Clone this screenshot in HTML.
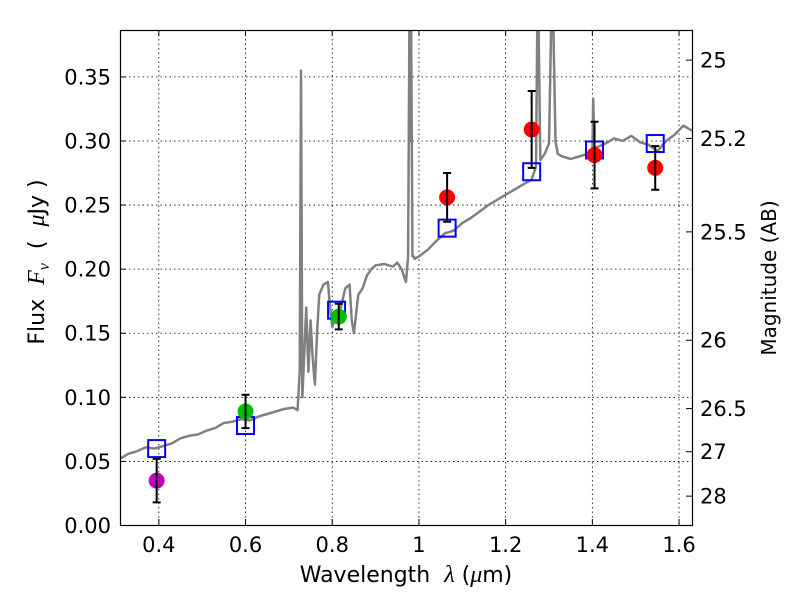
<!DOCTYPE html>
<html><head><meta charset="utf-8"><style>
body{margin:0;background:#fff;width:800px;height:600px;overflow:hidden}
svg{font-family:"DejaVu Sans","Liberation Sans",sans-serif}
</style></head><body>
<svg id="chart" width="800" height="600">
<g id="grid"></g>
<g id="spec"></g>
<g id="pts"></g>
<rect x="120.5" y="30.5" width="572" height="495" fill="none" stroke="#000" stroke-width="1.2"/>
<g id="axes"></g>
<text x="406" y="582" font-size="22" text-anchor="middle" xml:space="preserve">Wavelength  <tspan font-style="italic" font-family="Liberation Serif" font-size="24">λ</tspan> (<tspan font-style="italic" font-family="Liberation Serif" font-size="24">μ</tspan>m)</text>
<text transform="translate(44,262) rotate(-90)" font-size="22" text-anchor="middle" xml:space="preserve">Flux  <tspan font-style="italic" font-family="Liberation Serif" font-size="24">F<tspan font-size="16" dy="5">ν</tspan></tspan><tspan dy="-5">  (  </tspan><tspan font-style="italic" font-family="Liberation Serif" font-size="24">μ</tspan>Jy )</text>
<text transform="translate(776,278) rotate(-90)" font-size="20" text-anchor="middle">Magnitude (AB)</text>
</svg>
<script>
const xTicks=[0.4,0.6,0.8,1.0,1.2,1.4,1.6];
const xTickLabels=["0.4","0.6","0.8","1","1.2","1.4","1.6"];
const yTicks=[0,0.05,0.1,0.15,0.2,0.25,0.3,0.35];
const yTickLabels=["0.00","0.05","0.10","0.15","0.20","0.25","0.30","0.35"];
const magTicks=[25,25.2,25.5,26,26.5,27,28];
const magTickLabels=["25","25.2","25.5","26","26.5","27","28"];
const specWave=[0.31,0.33,0.35,0.37,0.39,0.41,0.43,0.45,0.47,0.49,0.51,0.53,0.55,0.57,0.59,0.61,0.63,0.65,0.67,0.69,0.71,0.72,0.725,0.728,0.731,0.735,0.74,0.745,0.75,0.755,0.76,0.765,0.77,0.78,0.79,0.795,0.80,0.81,0.82,0.83,0.84,0.845,0.85,0.855,0.86,0.87,0.88,0.89,0.90,0.92,0.94,0.95,0.96,0.97,0.975,0.978,0.98,0.982,0.985,0.988,0.99,1.0,1.02,1.04,1.06,1.08,1.10,1.12,1.14,1.16,1.18,1.2,1.22,1.24,1.26,1.27,1.273,1.276,1.28,1.29,1.30,1.305,1.31,1.315,1.32,1.33,1.35,1.37,1.39,1.40,1.402,1.405,1.41,1.43,1.45,1.47,1.49,1.51,1.53,1.55,1.57,1.59,1.61,1.63];
const specFlux=[0.052,0.056,0.058,0.061,0.060,0.062,0.064,0.068,0.070,0.071,0.074,0.076,0.080,0.081,0.083,0.082,0.085,0.087,0.089,0.091,0.092,0.090,0.120,0.355,0.100,0.130,0.170,0.120,0.160,0.130,0.110,0.150,0.180,0.188,0.190,0.170,0.155,0.165,0.170,0.185,0.188,0.160,0.150,0.165,0.180,0.185,0.195,0.200,0.203,0.204,0.202,0.205,0.200,0.190,0.210,0.390,0.300,0.390,0.210,0.210,0.208,0.210,0.215,0.222,0.228,0.230,0.236,0.240,0.245,0.250,0.254,0.258,0.262,0.266,0.270,0.280,0.390,0.390,0.285,0.290,0.298,0.390,0.390,0.300,0.290,0.288,0.286,0.288,0.290,0.292,0.333,0.290,0.295,0.298,0.302,0.300,0.304,0.299,0.297,0.292,0.300,0.305,0.312,0.308];
const modelWave=[0.395,0.60,0.81,1.065,1.26,1.405,1.545];
const modelFlux=[0.060,0.078,0.168,0.232,0.276,0.293,0.298];
const obsWave=[0.395,0.60,0.815,1.065,1.26,1.405,1.545];
const obsFlux=[0.035,0.089,0.163,0.256,0.309,0.289,0.279];
const obsErr=[0.017,0.013,0.010,0.019,0.030,0.026,0.017];
const obsColor=["#bf00bf","#00c000","#00c000","red","red","red","red"];
const X0=0.3116,X1=1.631,Y1=0.3862;
const sx=v=>120.5+(v-X0)/(X1-X0)*572;
const sy=v=>525.5-v/Y1*495;
const NS="http://www.w3.org/2000/svg";
function mk(t,a,p){const e=document.createElementNS(NS,t);for(const k in a)e.setAttribute(k,a[k]);p.appendChild(e);return e;}
const grid=document.getElementById('grid'),axes=document.getElementById('axes');
xTicks.forEach((v,i)=>{const x=sx(v);
 const g=mk('line',{x1:x,x2:x,y1:30,y2:525,stroke:'#000','stroke-dasharray':'1.5,3','stroke-width':0.8},grid);
 
 mk('line',{x1:x,x2:x,y1:525,y2:519,stroke:'#000'},axes);mk('line',{x1:x,x2:x,y1:30,y2:36,stroke:'#000'},axes);
 const t=mk('text',{x:x,y:552,'font-size':21,'text-anchor':'middle'},axes);t.textContent=xTickLabels[i];
 });
yTicks.forEach((v,i)=>{const y=sy(v);
 const g=mk('line',{x1:120,x2:692,y1:y,y2:y,stroke:'#000','stroke-dasharray':'1.5,3','stroke-width':0.8},grid);
 
 mk('line',{x1:120,x2:126,y1:y,y2:y,stroke:'#000'},axes);
 const t=mk('text',{x:111,y:y+7.5,'font-size':21,'text-anchor':'end'},axes);t.textContent=yTickLabels[i];
 });
magTicks.forEach((m,i)=>{const y=sy(Math.pow(10,(23.9-m)/2.5));
 mk('line',{x1:692,x2:686,y1:y,y2:y,stroke:'#000'},axes);
 const t=mk('text',{x:700,y:y+7.5,'font-size':21},axes);t.textContent=magTickLabels[i];
 });
const spec=document.getElementById('spec');
const cp=mk('clipPath',{id:'cp'},spec);
mk('rect',{x:120,y:30,width:572,height:495},cp);
const sp=mk('polyline',{points:specWave.map((w,i)=>sx(w)+','+sy(specFlux[i])).join(' '),fill:'none',stroke:'#808080','stroke-width':2.5,'clip-path':'url(#cp)','stroke-linejoin':'round'},spec);

const pts=document.getElementById('pts');
modelWave.forEach((w,i)=>{const r=mk('rect',{x:sx(w)-8.5,y:sy(modelFlux[i])-8.5,width:17,height:17,fill:'none',stroke:'blue','stroke-width':2},pts);
 });
obsWave.forEach((w,i)=>{const x=sx(w),y=sy(obsFlux[i]);
 const c=mk('circle',{cx:x,cy:y,r:8,fill:obsColor[i]},pts);
 
 const yt=sy(obsFlux[i]+obsErr[i]),yb=sy(obsFlux[i]-obsErr[i]);
 const e=mk('path',{d:`M${x},${yt}V${yb}M${x-4},${yt}H${x+4}M${x-4},${yb}H${x+4}`,stroke:'#000','stroke-width':2,fill:'none'},pts);
 });
</script>
</body></html>
